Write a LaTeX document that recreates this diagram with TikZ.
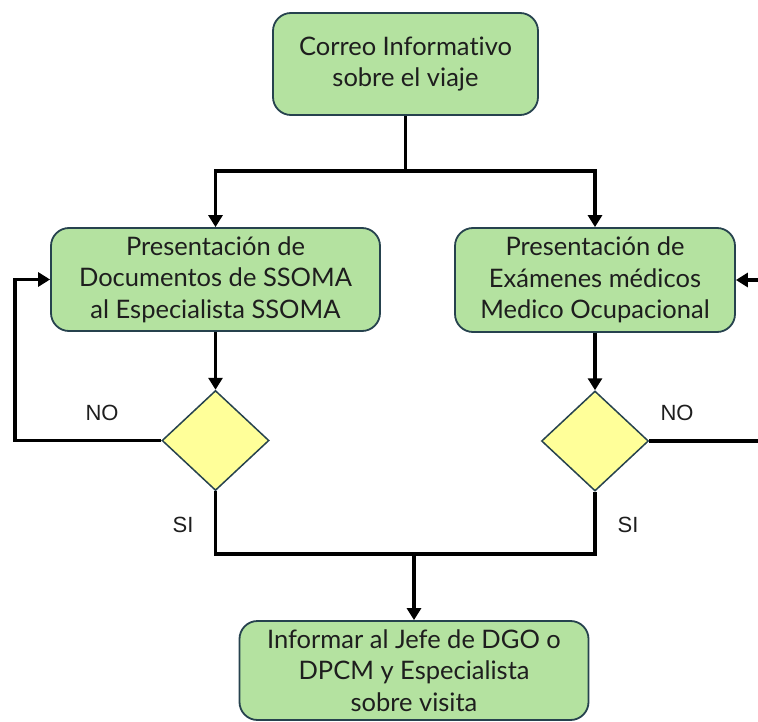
\documentclass[tikz,border=0pt]{standalone}
\usepackage{fontspec}
\setmainfont{Lato}[Ligatures={NoCommon}]
\newfontfamily\labelfont{Liberation Sans}
\usetikzlibrary{shapes.geometric,arrows.meta}
\definecolor{boxfill}{RGB}{180,226,160}
\definecolor{boxline}{RGB}{38,66,78}
\definecolor{decfill}{RGB}{255,255,153}
\definecolor{txt}{RGB}{30,30,30}
\tikzset{
  procbox/.style={draw=boxline, line width=1.8pt, fill=boxfill, rounded corners=18pt,
    align=center, text=txt, font=\fontsize{25.5}{31.5}\selectfont, inner sep=0pt},
  decbox/.style={draw=boxline, line width=1.5pt, fill=decfill, shape=diamond,
    inner sep=0pt, minimum width=107pt, minimum height=100pt},
  conn/.style={line width=3.6pt, black},
  arr/.style={conn, -{Triangle[width=14pt,length=12pt]}},
  lbl/.style={font=\labelfont\fontsize{22}{24}\selectfont, text=txt, inner sep=0pt}
}
\begin{document}
\begin{tikzpicture}[x=1pt,y=-1pt]
\useasboundingbox (0,0) rectangle (758,722);
\fill[white] (0,0) rectangle (758,722);
\node[procbox, minimum width=265pt, minimum height=102pt] (top) at (405.5,64) {Correo Informativo\\sobre el viaje};
\node[procbox, minimum width=329pt, minimum height=103pt] (lbox) at (215.5,279.5) {Presentación de\\Documentos de SSOMA\\al Especialista SSOMA};
\node[procbox, minimum width=280pt, minimum height=104pt] (rbox) at (595,280) {Presentación de\\Exámenes médicos\\Medico Ocupacional};
\node[decbox] (ld) at (215.5,440.5) {};
\node[decbox] (rd) at (595,441) {};
\node[procbox, minimum width=349pt, minimum height=99pt] (bbox) at (414,670.5) {Informar al Jefe de DGO o\\DPCM y Especialista\\sobre visita};
\coordinate (split) at (405.5,171);
\coordinate (join) at (414,554);
\coordinate (lloop) at (15,0);
\coordinate (rloop) at (780,0);
\draw[arr] (top.south) -- (split) -| (lbox.north);
\draw[arr] (split) -| (rbox.north);
\draw[arr] (lbox.south) -- (ld.north);
\draw[arr] (rbox.south) -- (rd.north);
\draw[arr] (ld.west) -- (ld.west -| lloop) |- (lbox.west);
\draw[arr] (rd.east) -- (rd.east -| rloop) |- (rbox.east);
\draw[conn] (ld.south) -- (ld.south |- join) -- (rd.south |- join) -- (rd.south);
\draw[arr] (join) -- (bbox.north);
\node[lbl] (nol) at (102,413) {NO};
\node[lbl] (sil) at (183,525) {SI};
\node[lbl] (nor) at (677,413) {NO};
\node[lbl] (sir) at (628,525) {SI};
\end{tikzpicture}
\end{document}
